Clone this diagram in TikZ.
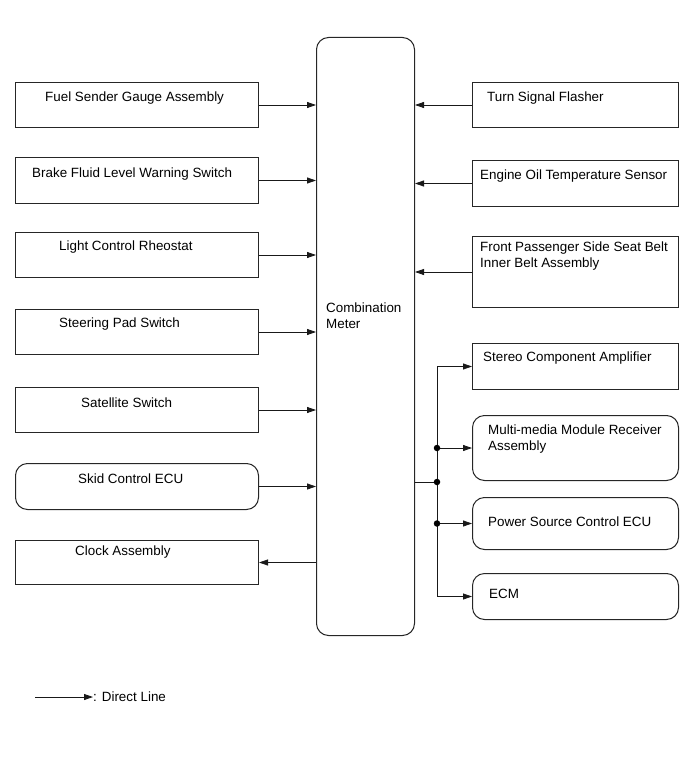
\documentclass[tikz,border=0pt]{standalone}
\usepackage{fontspec}
\setmainfont{Liberation Sans}
\usetikzlibrary{positioning,arrows.meta}

\begin{document}
\begin{tikzpicture}[
  x=1pt,y=-1pt,
  font=\fontsize{13.4}{16}\selectfont,
  box/.style={draw=black!85,line width=1pt,anchor=north west,inner sep=0pt,minimum width=243pt,minimum height=45pt},
  rbox/.style={box,rounded corners=12pt},
  rbox2/.style={box,rounded corners=12pt,minimum width=206pt},
  sbox/.style={box,minimum width=206pt},
  txt/.style={anchor=west,inner sep=0pt,align=left,yshift=-1.5pt},
  edge/.style={-{Triangle[length=9pt,width=6pt]},draw=black!90,line width=0.8pt},
  wire/.style={draw=black!90,line width=0.8pt},
  dot/.style={circle,fill=black,inner sep=0pt,minimum size=6.5pt}
]
\useasboundingbox (0,0) rectangle (691,757);

% centre unit
\node[box,rounded corners=12pt,minimum width=98pt,minimum height=598pt] (meter) at (316,37) {};
\node[txt] (meter-t) at (326,314) {Combination\\Meter};

% left column
\node[box] (fuel) at (15,82) {};
\node[box,minimum height=46pt] (brake) at (15,157) {};
\node[box] (light) at (15,232) {};
\node[box] (steer) at (15,309) {};
\node[box] (sat) at (15,387) {};
\node[rbox,minimum height=46pt] (skid) at (15,463) {};
\node[box,minimum height=44pt] (clock) at (15,540) {};

\node[txt] at (45,97) {Fuel Sender Gauge Assembly};
\node[txt] at (32,173) {Brake Fluid Level Warning Switch};
\node[txt] at (59,246) {Light Control Rheostat};
\node[txt] at (59,323) {Steering Pad Switch};
\node[txt] at (81,401) {Satellite Switch};
\node[txt] at (78,477) {Skid Control ECU};
\node[txt] at (75,551) {Clock Assembly};

% right column
\node[sbox] (turn) at (472,82) {};
\node[sbox,minimum height=46pt] (oil) at (472,160) {};
\node[sbox,minimum height=71pt] (belt) at (472,236) {};
\node[sbox,minimum height=46pt] (stereo) at (472,343) {};
\node[rbox2,minimum height=65pt] (mmr) at (472,415) {};
\node[rbox2,minimum height=52pt] (power) at (472,497) {};
\node[rbox2,minimum height=46pt] (ecm) at (472,573) {};

\node[txt] at (487,97) {Turn Signal Flasher};
\node[txt] at (480,175) {Engine Oil Temperature Sensor};
\node[txt] at (480,255) {Front Passenger Side Seat Belt\\Inner Belt Assembly};
\node[txt] at (483,357) {Stereo Component Amplifier};
\node[txt] at (488,438) {Multi-media Module Receiver\\Assembly};
\node[txt] at (488,520) {Power Source Control ECU};
\node[txt] at (489,592) {ECM};

% inputs to meter
\foreach \n in {fuel,brake,light,steer,sat,skid}
  \draw[edge] (\n.east) -- (\n.east -| meter.west);
\draw[edge] (clock.east -| meter.west) -- (clock.east);
\foreach \n in {turn,oil,belt}
  \draw[edge] (\n.west) -- (\n.west -| meter.east);

% outputs to the bus
\coordinate (tap) at (437,482);
\draw[wire] (tap -| meter.east) -- (tap);
\draw[wire] (stereo.west -| tap) -- (ecm.west -| tap);
\foreach \n in {stereo,mmr,power,ecm}
  \draw[edge] (\n.west -| tap) -- (\n.west);
\node[dot] at (tap) {};
\node[dot] at (mmr.west -| tap) {};
\node[dot] at (power.west -| tap) {};

% legend
\coordinate (lg-a) at (35,697);
\node[txt,yshift=1.5pt] (lg) at (93,697) {: Direct Line};
\draw[edge] (lg-a) -- (lg.west);
\end{tikzpicture}
\end{document}
